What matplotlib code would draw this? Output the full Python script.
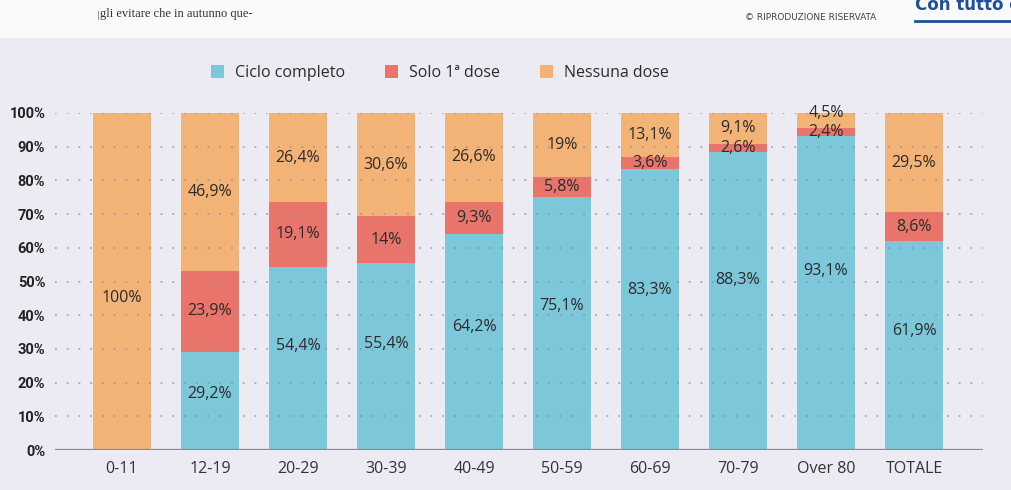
import matplotlib.pyplot as plt
from matplotlib.patches import Rectangle
import numpy as np

# dati: vaccinazioni per fascia d'eta
fasce = ['0-11', '12-19', '20-29', '30-39', '40-49', '50-59', '60-69', '70-79', 'Over 80', 'TOTALE']
ciclo = [0, 29.2, 54.4, 55.4, 64.2, 75.1, 83.3, 88.3, 93.1, 61.9]
prima = [0, 23.9, 19.1, 14, 9.3, 5.8, 3.6, 2.6, 2.4, 8.6]
nessuna = [100, 46.9, 26.4, 30.6, 26.6, 19, 13.1, 9.1, 4.5, 29.5]
serie = ['Ciclo completo', 'Solo 1ª dose', 'Nessuna dose']
yticks = [0, 10, 20, 30, 40, 50, 60, 70, 80, 90, 100]

c_blu = '#7cc7da'
c_rosso = '#e8746a'
c_arancio = '#f3b376'
sfondo = '#ecebf3'
testo = '#2b2b2b'
font = 'Open Sans'

W, H = 1012, 490
fig = plt.figure(figsize=(W / 100, H / 100), dpi=100)
fig.patch.set_facecolor('#fafafa')
fig.add_artist(Rectangle((0, 0), 1, 1 - 38 / H, transform=fig.transFigure,
                         facecolor=sfondo, edgecolor='none', zorder=-10))

# striscia in alto (testo tagliato dell'articolo)
fig.text(100 / W, 1 - 14 / H, 'gli evitare che in autunno que-', family='Liberation Serif',
         fontsize=9, color='#333333', va='center', ha='left')
fig.text(97 / W, 1 - 15 / H, '|', family='DejaVu Sans', fontsize=6, color='#777777',
         va='center', ha='left')
fig.text(745 / W, 1 - 17 / H, '© RIPRODUZIONE RISERVATA', family='DejaVu Sans',
         fontsize=6.5, color='#444444', va='center', ha='left')
fig.text(915 / W, 1 - 5 / H, 'Con tutto cas', family='DejaVu Sans', fontsize=12,
         fontweight='bold', color='#1f4e9c', va='center', ha='left')
fig.add_artist(plt.Line2D([915 / W, 1], [1 - 21 / H, 1 - 21 / H], color='#1f4e9c', lw=2))

ax = fig.add_axes([55 / W, 1 - 450 / H, 928 / W, 337 / H])
ax.set_facecolor('none')

x = np.arange(len(fasce))
larg = 0.66
b1 = np.array(ciclo)
b2 = b1 + np.array(prima)
ax.bar(x, ciclo, larg, color=c_blu, label=serie[0], zorder=2)
ax.bar(x, prima, larg, bottom=b1, color=c_rosso, label=serie[1], zorder=2)
ax.bar(x, nessuna, larg, bottom=b2, color=c_arancio, label=serie[2], zorder=2)

for y in yticks[1:]:
    ax.axhline(y, color='#8f8f9c', lw=1.3, ls=(0, (1, 5.5)), alpha=0.75, zorder=3)
ax.axhline(0, color='#8a8a94', lw=1.6, zorder=4)


def fmt(v):
    return f'{v:g}'.replace('.', ',') + '%'


for i in range(len(fasce)):
    if ciclo[i] > 0:
        ax.text(x[i], ciclo[i] * 0.57, fmt(ciclo[i]), ha='center', va='center',
                fontsize=11.5, family=font, color=testo, zorder=5)
    if prima[i] > 0:
        ax.text(x[i], b1[i] + prima[i] / 2, fmt(prima[i]), ha='center', va='center',
                fontsize=11.5, family=font, color=testo, zorder=5)
    ypos = b2[i] + nessuna[i] / 2
    if nessuna[i] == 100:
        ypos = 45
    elif nessuna[i] < 6:
        ypos = 100  # etichetta sul bordo, come nell'originale
    ax.text(x[i], ypos, fmt(nessuna[i]), ha='center', va='center',
            fontsize=11.5, family=font, color=testo, zorder=5, clip_on=False)

ax.set_xlim(-67 / 88, 9 + 69 / 88)
ax.set_ylim(0, 100)
ax.set_xticks(x)
ax.set_xticklabels(fasce, fontsize=11.5, family=font, color='#333333')
ax.set_yticks(yticks)
ax.set_yticklabels([f'{v}%' for v in yticks], fontsize=10.5, fontweight='bold',
                   color='#222222', family='Roboto')
ax.tick_params(axis='both', length=0)
ax.tick_params(axis='x', pad=8)
ax.tick_params(axis='y', pad=7)
for s in ax.spines.values():
    s.set_visible(False)

leg = fig.legend(loc='center', bbox_to_anchor=(440 / W, 1 - 73 / H), ncol=3,
                 frameon=False, prop={'family': font, 'size': 11.5},
                 handlelength=0.8, handleheight=0.8,
                 columnspacing=2.5, handletextpad=0.7)
for t in leg.get_texts():
    t.set_color(testo)

fig.savefig('out.png', dpi=100, facecolor=fig.get_facecolor())
